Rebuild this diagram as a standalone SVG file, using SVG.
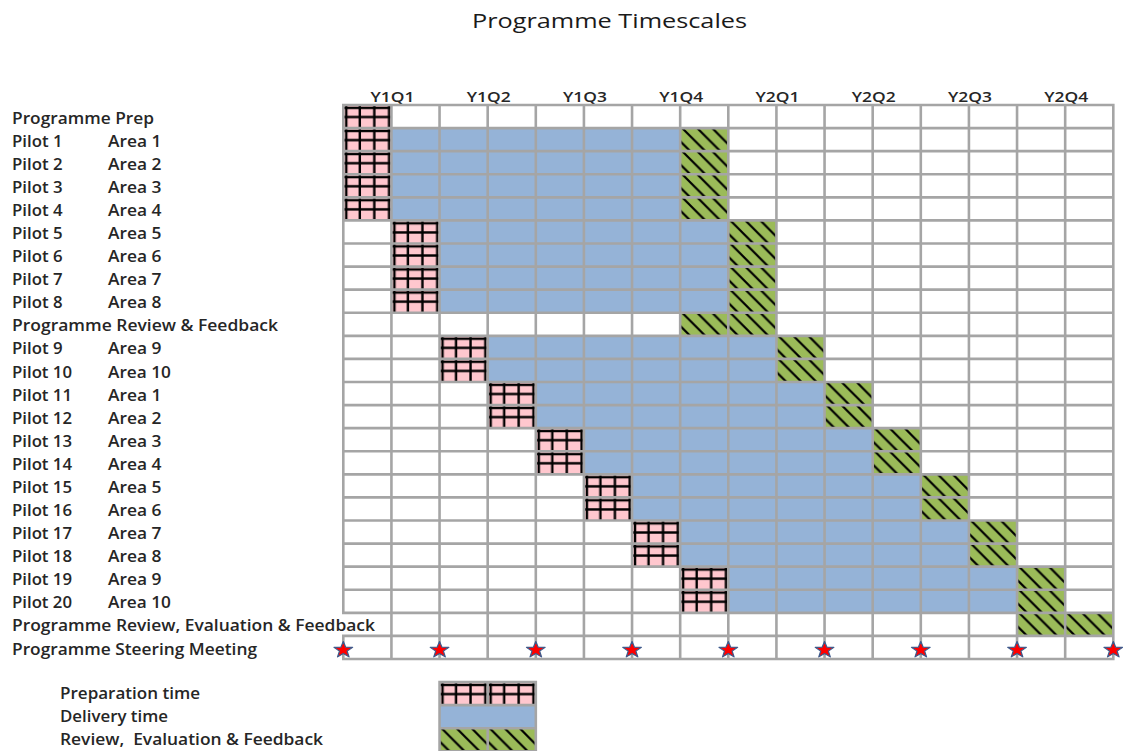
<svg xmlns="http://www.w3.org/2000/svg" width="1123" height="751" viewBox="0 0 1123 751">
  <defs>
    <style>
      text { font-family: "Open Sans", "Liberation Sans", sans-serif; fill: #262626; }
      .title { font-size: 20px; font-weight: normal; fill: #1a1a1a; }
      .lbl { font-size: 15.5px; font-weight: 600; }
      .hdr { font-size: 14px; font-weight: 600; text-anchor: middle; }
      .deliver { fill: #95b3d7; }
      .prep { fill: url(#prepPat); }
      .review { fill: url(#reviewPat); }
      .grid { fill: none; stroke: #a5a5a5; stroke-width: 2.6; stroke-linecap: square; }
      .star { fill: #ff0000; stroke: #3c5a8c; stroke-width: 1.1; stroke-linejoin: round; }
    </style>
    <!-- cell-sized tiles, aligned to the grid origin (343.3, 105) -->
    <pattern id="prepPat" patternUnits="userSpaceOnUse" x="343.3" y="105" width="48.125" height="23.083">
      <rect width="48.125" height="23.083" fill="#ffc7ce"/>
      <path d="M3,0V23.1M16.5,0V23.1M31,0V23.1M45.8,0V23.1M0,2.8H48.2M0,12H48.2" stroke="#000" stroke-width="2.4"/>
    </pattern>
    <pattern id="reviewPat" patternUnits="userSpaceOnUse" x="343.3" y="105" width="48.125" height="23.083">
      <rect width="48.125" height="23.083" fill="#9bbb59"/>
      <path d="M-28,0l23.1,23.1M-13,0l23.1,23.1M2,0l23.1,23.1M17,0l23.1,23.1M32,0l23.1,23.1" stroke="#000" stroke-width="2.2"/>
    </pattern>
    <path id="starShape" d="M0,-8.5L2.06,-2.84L8.08,-2.63L3.34,1.08L4.99,6.88L0,3.5L-4.99,6.88L-3.34,1.08L-8.08,-2.63L-2.06,-2.84Z"/>
  </defs>

  <rect width="1123" height="751" fill="#ffffff"/>

  <text class="title" x="472" y="28" textLength="275" lengthAdjust="spacingAndGlyphs">Programme Timescales</text>

  <!-- quarter headings -->
  <g id="quarters">
    <text class="hdr" x="392.5" y="101.5" textLength="44" lengthAdjust="spacingAndGlyphs">Y1Q1</text>
    <text class="hdr" x="488.7" y="101.5" textLength="44" lengthAdjust="spacingAndGlyphs">Y1Q2</text>
    <text class="hdr" x="584.9" y="101.5" textLength="44" lengthAdjust="spacingAndGlyphs">Y1Q3</text>
    <text class="hdr" x="681.2" y="101.5" textLength="44" lengthAdjust="spacingAndGlyphs">Y1Q4</text>
    <text class="hdr" x="777.4" y="101.5" textLength="44" lengthAdjust="spacingAndGlyphs">Y2Q1</text>
    <text class="hdr" x="873.7" y="101.5" textLength="44" lengthAdjust="spacingAndGlyphs">Y2Q2</text>
    <text class="hdr" x="969.9" y="101.5" textLength="44" lengthAdjust="spacingAndGlyphs">Y2Q3</text>
    <text class="hdr" x="1066.2" y="101.5" textLength="44" lengthAdjust="spacingAndGlyphs">Y2Q4</text>
  </g>

  <!-- bars: preparation, delivery and review spans -->
  <g id="prep-row">
    <rect class="prep" x="343.3" y="105" width="48.125" height="23.083"/>
    <text class="lbl" x="12" y="123.5" textLength="142" lengthAdjust="spacingAndGlyphs">Programme Prep</text>
  </g>

  <g id="pilots-1-4">
    <rect class="prep" x="343.3" y="128.08" width="48.125" height="92.33"/>
    <rect class="deliver" x="391.43" y="128.08" width="288.75" height="92.33"/>
    <rect class="review" x="680.18" y="128.08" width="48.125" height="92.33"/>
    <text class="lbl" x="12" y="146.6" textLength="50.5" lengthAdjust="spacingAndGlyphs">Pilot 1</text>
    <text class="lbl" x="108" y="146.6" textLength="53.5" lengthAdjust="spacingAndGlyphs">Area 1</text>
    <text class="lbl" x="12" y="169.7" textLength="50.5" lengthAdjust="spacingAndGlyphs">Pilot 2</text>
    <text class="lbl" x="108" y="169.7" textLength="53.5" lengthAdjust="spacingAndGlyphs">Area 2</text>
    <text class="lbl" x="12" y="192.8" textLength="50.5" lengthAdjust="spacingAndGlyphs">Pilot 3</text>
    <text class="lbl" x="108" y="192.8" textLength="53.5" lengthAdjust="spacingAndGlyphs">Area 3</text>
    <text class="lbl" x="12" y="215.9" textLength="50.5" lengthAdjust="spacingAndGlyphs">Pilot 4</text>
    <text class="lbl" x="108" y="215.9" textLength="53.5" lengthAdjust="spacingAndGlyphs">Area 4</text>
  </g>

  <g id="pilots-5-8">
    <rect class="prep" x="391.43" y="220.42" width="48.125" height="92.33"/>
    <rect class="deliver" x="439.55" y="220.42" width="288.75" height="92.33"/>
    <rect class="review" x="728.3" y="220.42" width="48.125" height="92.33"/>
    <text class="lbl" x="12" y="239" textLength="50.5" lengthAdjust="spacingAndGlyphs">Pilot 5</text>
    <text class="lbl" x="108" y="239" textLength="53.5" lengthAdjust="spacingAndGlyphs">Area 5</text>
    <text class="lbl" x="12" y="262" textLength="50.5" lengthAdjust="spacingAndGlyphs">Pilot 6</text>
    <text class="lbl" x="108" y="262" textLength="53.5" lengthAdjust="spacingAndGlyphs">Area 6</text>
    <text class="lbl" x="12" y="285.1" textLength="50.5" lengthAdjust="spacingAndGlyphs">Pilot 7</text>
    <text class="lbl" x="108" y="285.1" textLength="53.5" lengthAdjust="spacingAndGlyphs">Area 7</text>
    <text class="lbl" x="12" y="308.2" textLength="50.5" lengthAdjust="spacingAndGlyphs">Pilot 8</text>
    <text class="lbl" x="108" y="308.2" textLength="53.5" lengthAdjust="spacingAndGlyphs">Area 8</text>
  </g>

  <g id="review-1">
    <rect class="review" x="680.18" y="312.75" width="96.25" height="23.083"/>
    <text class="lbl" x="12" y="331.3" textLength="266" lengthAdjust="spacingAndGlyphs">Programme Review &amp; Feedback</text>
  </g>

  <g id="pilots-9-10">
    <rect class="prep" x="439.55" y="335.83" width="48.125" height="46.17"/>
    <rect class="deliver" x="487.68" y="335.83" width="288.75" height="46.17"/>
    <rect class="review" x="776.43" y="335.83" width="48.125" height="46.17"/>
    <text class="lbl" x="12" y="354.4" textLength="50.5" lengthAdjust="spacingAndGlyphs">Pilot 9</text>
    <text class="lbl" x="108" y="354.4" textLength="53.5" lengthAdjust="spacingAndGlyphs">Area 9</text>
    <text class="lbl" x="12" y="377.5" textLength="60" lengthAdjust="spacingAndGlyphs">Pilot 10</text>
    <text class="lbl" x="108" y="377.5" textLength="63" lengthAdjust="spacingAndGlyphs">Area 10</text>
  </g>

  <g id="pilots-11-12">
    <rect class="prep" x="487.68" y="382" width="48.125" height="46.17"/>
    <rect class="deliver" x="535.8" y="382" width="288.75" height="46.17"/>
    <rect class="review" x="824.55" y="382" width="48.125" height="46.17"/>
    <text class="lbl" x="12" y="400.5" textLength="60" lengthAdjust="spacingAndGlyphs">Pilot 11</text>
    <text class="lbl" x="108" y="400.5" textLength="53.5" lengthAdjust="spacingAndGlyphs">Area 1</text>
    <text class="lbl" x="12" y="423.6" textLength="60" lengthAdjust="spacingAndGlyphs">Pilot 12</text>
    <text class="lbl" x="108" y="423.6" textLength="53.5" lengthAdjust="spacingAndGlyphs">Area 2</text>
  </g>

  <g id="pilots-13-14">
    <rect class="prep" x="535.8" y="428.17" width="48.125" height="46.17"/>
    <rect class="deliver" x="583.93" y="428.17" width="288.75" height="46.17"/>
    <rect class="review" x="872.68" y="428.17" width="48.125" height="46.17"/>
    <text class="lbl" x="12" y="446.7" textLength="60" lengthAdjust="spacingAndGlyphs">Pilot 13</text>
    <text class="lbl" x="108" y="446.7" textLength="53.5" lengthAdjust="spacingAndGlyphs">Area 3</text>
    <text class="lbl" x="12" y="469.8" textLength="60" lengthAdjust="spacingAndGlyphs">Pilot 14</text>
    <text class="lbl" x="108" y="469.8" textLength="53.5" lengthAdjust="spacingAndGlyphs">Area 4</text>
  </g>

  <g id="pilots-15-16">
    <rect class="prep" x="583.93" y="474.33" width="48.125" height="46.17"/>
    <rect class="deliver" x="632.05" y="474.33" width="288.75" height="46.17"/>
    <rect class="review" x="920.8" y="474.33" width="48.125" height="46.17"/>
    <text class="lbl" x="12" y="492.9" textLength="60" lengthAdjust="spacingAndGlyphs">Pilot 15</text>
    <text class="lbl" x="108" y="492.9" textLength="53.5" lengthAdjust="spacingAndGlyphs">Area 5</text>
    <text class="lbl" x="12" y="516" textLength="60" lengthAdjust="spacingAndGlyphs">Pilot 16</text>
    <text class="lbl" x="108" y="516" textLength="53.5" lengthAdjust="spacingAndGlyphs">Area 6</text>
  </g>

  <g id="pilots-17-18">
    <rect class="prep" x="632.05" y="520.5" width="48.125" height="46.17"/>
    <rect class="deliver" x="680.18" y="520.5" width="288.75" height="46.17"/>
    <rect class="review" x="968.93" y="520.5" width="48.125" height="46.17"/>
    <text class="lbl" x="12" y="539" textLength="60" lengthAdjust="spacingAndGlyphs">Pilot 17</text>
    <text class="lbl" x="108" y="539" textLength="53.5" lengthAdjust="spacingAndGlyphs">Area 7</text>
    <text class="lbl" x="12" y="562.1" textLength="60" lengthAdjust="spacingAndGlyphs">Pilot 18</text>
    <text class="lbl" x="108" y="562.1" textLength="53.5" lengthAdjust="spacingAndGlyphs">Area 8</text>
  </g>

  <g id="pilots-19-20">
    <rect class="prep" x="680.18" y="566.67" width="48.125" height="46.17"/>
    <rect class="deliver" x="728.3" y="566.67" width="288.75" height="46.17"/>
    <rect class="review" x="1017.05" y="566.67" width="48.125" height="46.17"/>
    <text class="lbl" x="12" y="585.2" textLength="60" lengthAdjust="spacingAndGlyphs">Pilot 19</text>
    <text class="lbl" x="108" y="585.2" textLength="53.5" lengthAdjust="spacingAndGlyphs">Area 9</text>
    <text class="lbl" x="12" y="608.3" textLength="60" lengthAdjust="spacingAndGlyphs">Pilot 20</text>
    <text class="lbl" x="108" y="608.3" textLength="63" lengthAdjust="spacingAndGlyphs">Area 10</text>
  </g>

  <g id="review-2">
    <rect class="review" x="1017.05" y="612.83" width="96.25" height="23.083"/>
  </g>

  <!-- grid lines -->
  <g id="grid">
    <path class="grid" d="
      M343.3,105H1113.3 M343.3,128.08H1113.3 M343.3,151.17H1113.3 M343.3,174.25H1113.3
      M343.3,197.33H1113.3 M343.3,220.42H1113.3 M343.3,243.5H1113.3 M343.3,266.58H1113.3
      M343.3,289.67H1113.3 M343.3,312.75H1113.3 M343.3,335.83H1113.3 M343.3,358.92H1113.3
      M343.3,382H1113.3 M343.3,405.08H1113.3 M343.3,428.17H1113.3 M343.3,451.25H1113.3
      M343.3,474.33H1113.3 M343.3,497.42H1113.3 M343.3,520.5H1113.3 M343.3,543.58H1113.3
      M343.3,566.67H1113.3 M343.3,589.75H1113.3 M343.3,612.83H1113.3 M343.3,635.92H1113.3
      M343.3,659H1113.3
      M343.3,105V612.83 M343.3,635.92V659
      M391.43,105V659 M439.55,105V659 M487.68,105V659 M535.8,105V659
      M583.93,105V659 M632.05,105V659 M680.18,105V659 M728.3,105V659
      M776.43,105V659 M824.55,105V659 M872.68,105V659 M920.8,105V659
      M968.93,105V659 M1017.05,105V659 M1065.18,105V659 M1113.3,105V659"/>
  </g>

  <g id="review-2-label">
    <text class="lbl" x="12" y="631.4" textLength="363" lengthAdjust="spacingAndGlyphs">Programme Review, Evaluation &amp; Feedback</text>
  </g>

  <!-- steering meetings at each quarter boundary -->
  <g id="steering">
    <text class="lbl" x="12" y="654.5" textLength="245" lengthAdjust="spacingAndGlyphs">Programme Steering Meeting</text>
    <use href="#starShape" class="star" transform="translate(343.3,650) scale(1.15,1)"/>
    <use href="#starShape" class="star" transform="translate(439.55,650) scale(1.15,1)"/>
    <use href="#starShape" class="star" transform="translate(535.8,650) scale(1.15,1)"/>
    <use href="#starShape" class="star" transform="translate(632.05,650) scale(1.15,1)"/>
    <use href="#starShape" class="star" transform="translate(728.3,650) scale(1.15,1)"/>
    <use href="#starShape" class="star" transform="translate(824.55,650) scale(1.15,1)"/>
    <use href="#starShape" class="star" transform="translate(920.8,650) scale(1.15,1)"/>
    <use href="#starShape" class="star" transform="translate(1017.05,650) scale(1.15,1)"/>
    <use href="#starShape" class="star" transform="translate(1113.3,650) scale(1.15,1)"/>
  </g>

  <!-- key -->
  <g id="legend">
    <rect class="prep" x="439.55" y="682.08" width="96.25" height="23.083"/>
    <rect class="deliver" x="439.55" y="705.17" width="96.25" height="23.083"/>
    <rect class="review" x="439.55" y="728.25" width="96.25" height="23.083"/>
    <path class="grid" d="M439.55,682.08H535.8V751.33H439.55Z M439.55,705.17H535.8 M439.55,728.25H535.8 M487.68,682.08V705.17 M487.68,728.25V751.33"/>
    <text class="lbl" x="60" y="698.5" textLength="140" lengthAdjust="spacingAndGlyphs">Preparation time</text>
    <text class="lbl" x="60" y="722" textLength="108" lengthAdjust="spacingAndGlyphs">Delivery time</text>
    <text class="lbl" x="60" y="745" textLength="263" lengthAdjust="spacingAndGlyphs" xml:space="preserve">Review,  Evaluation &amp; Feedback</text>
  </g>
</svg>
